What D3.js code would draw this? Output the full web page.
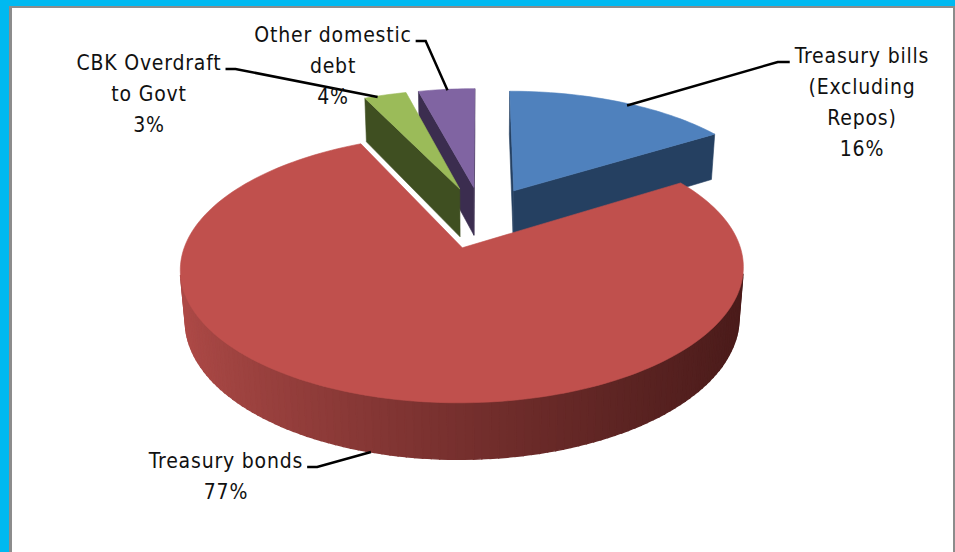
<!DOCTYPE html>
<html lang="en">
<head>
  <meta charset="UTF-8" />
  <title>Domestic debt composition</title>
  <script src="https://d3js.org/d3.v7.min.js"></script>
  <style>
    body { margin: 0; padding: 0; overflow: hidden; background: #00b9f1; }
    svg { display: block; }
    .lbl { font-family: "Liberation Sans Narrow", "Arial Narrow", "DejaVu Sans Condensed", "Liberation Sans", sans-serif; font-size: 21px; letter-spacing: 0.8px; fill: #111; }
  </style>
</head>
<body>
  <svg id="chart" width="955" height="552"></svg>
  <script>
    // data
    const categories = ["Treasury bills (Excluding Repos)", "Treasury bonds", "CBK Overdraft to Govt", "Other domestic debt"];
    const labelLines = [["Treasury bills", "(Excluding", "Repos)"], ["Treasury bonds"], ["CBK Overdraft", "to Govt"], ["Other domestic", "debt"]];
    const shares = [16, 77, 3, 4];

    // styling
    const topColors  = ["#4f81bd", "#c0504d", "#9bbb59", "#8064a2"];
    const cutColors  = ["#254061", "#6b2725", "#3f4f21", "#3b2d4f"];
    const wallLight  = ["#3f6796", "#b04b48", "#7c9747", "#66508a"];
    const wallDark   = ["#1d3350", "#4a1b1a", "#323f1a", "#2e2340"];

    // label layout (text anchor centre, first baseline)
    const labelPos = [[862, 63], [226, 468], [149, 70], [333, 42]];
    const leaderSide = ["left", "right", "right", "right"];
    const leaderTarget = [
      { angle: 31, r: 0.98, level: "top" },
      { angle: 196, r: 1.0, level: "bottom" },
      { angle: 338, r: 0.99, level: "top" },
      { angle: 353, r: 0.99, level: "top" }
    ];

    const W = 955, H = 552;
    const svg = d3.select("#chart");

    // frame
    svg.append("rect").attr("width", W).attr("height", H).attr("fill", "#00b9f1");
    svg.append("rect").attr("x", 9).attr("y", 6).attr("width", W - 9).attr("height", H - 6).attr("fill", "#8c8c8c");
    svg.append("rect").attr("x", 12).attr("y", 8).attr("width", W - 14).attr("height", H - 8).attr("fill", "#fff");

    // 3d pie geometry
    const R = 268, depth = 56, explode = 68;
    const phi = 27 * Math.PI / 180, D = 1600;
    const cx = 482, cy = 217;
    const sinP = Math.sin(phi), cosP = Math.cos(phi);
    const cam = [0, D * sinP, D * cosP];

    function proj(p) {
      const yc = p[1] * cosP - p[2] * sinP;
      const zc = p[1] * sinP + p[2] * cosP;
      const s = D / (D - zc);
      return [cx + p[0] * s, cy - yc * s];
    }
    function zdepth(p) { return p[1] * sinP + p[2] * cosP; }
    function visible(n, p) {
      return n[0] * (cam[0] - p[0]) + n[1] * (cam[1] - p[1]) + n[2] * (cam[2] - p[2]) > 0;
    }

    const pie = d3.pie().sort(null).value(d => d).startAngle(0).endAngle(2 * Math.PI);
    const arcs = pie(shares);

    const slices = arcs.map((a, i) => {
      const mid = (a.startAngle + a.endAngle) / 2;
      const ox = explode * Math.sin(mid), oz = -explode * Math.cos(mid);
      const pt = (th, r, y) => [ox + r * Math.sin(th), y, oz - r * Math.cos(th)];
      const cen = pt(mid, R / 2, 0);
      return { i, a, mid, ox, oz, pt, z: zdepth(cen) };
    });

    const line = d3.line();
    const g = svg.append("g");

    slices.sort((p, q) => p.z - q.z).forEach(sl => {
      const { i, a, pt } = sl;
      const faces = [];
      const nSteps = Math.max(4, Math.ceil((a.endAngle - a.startAngle) / (Math.PI / 120)));
      const angs = d3.range(nSteps + 1).map(k => a.startAngle + (a.endAngle - a.startAngle) * k / nSteps);
      const shade = d3.interpolateRgb(wallDark[i], wallLight[i]);

      // outer wall
      for (let k = 0; k < nSteps; k++) {
        const t0 = angs[k], t1 = angs[k + 1], tm = (t0 + t1) / 2;
        const n = [Math.sin(tm), 0, -Math.cos(tm)];
        const p = pt(tm, R, -depth / 2);
        if (!visible(n, p)) continue;
        const t = Math.pow((1 - Math.sin(tm)) / 2, 1.2);
        faces.push({
          pts: [pt(t0, R, 0), pt(t1, R, 0), pt(t1, R, -depth), pt(t0, R, -depth)],
          color: shade(t), z: zdepth(p), sw: 1.4
        });
      }
      // cut faces
      const s0 = a.startAngle, s1 = a.endAngle;
      const nStart = [-Math.cos(s0), 0, -Math.sin(s0)];
      const nEnd = [Math.cos(s1), 0, Math.sin(s1)];
      [[s0, nStart], [s1, nEnd]].forEach(([th, n]) => {
        const p = pt(th, R / 2, -depth / 2);
        if (!visible(n, p)) return;
        faces.push({
          pts: [pt(0, 0, 0), pt(th, R, 0), pt(th, R, -depth), pt(0, 0, -depth)],
          color: cutColors[i], z: zdepth(p), sw: 0.6
        });
      });
      faces.sort((p, q) => p.z - q.z).forEach(f => {
        g.append("path")
          .attr("d", line(f.pts.map(proj)) + "Z")
          .attr("fill", f.color)
          .attr("stroke", f.color)
          .attr("stroke-width", f.sw);
      });
      // top face
      const topPts = [pt(0, 0, 0)].concat(angs.map(th => pt(th, R, 0)));
      g.append("path")
        .attr("d", line(topPts.map(proj)) + "Z")
        .attr("fill", topColors[i])
        .attr("stroke", topColors[i])
        .attr("stroke-width", 0.6);
    });

    // labels and leader lines
    const byIndex = d3.sort(slices, s => s.i);
    labelLines.forEach((lines, i) => {
      const [lx, ly] = labelPos[i];
      const allLines = lines.concat([shares[i] + "%"]);
      const txt = svg.append("text").attr("class", "lbl").attr("text-anchor", "middle");
      allLines.forEach((s, k) => {
        txt.append("tspan").attr("x", lx).attr("y", ly + k * 31).text(s);
      });
      const first = txt.select("tspan").node();
      const w = first.getComputedTextLength();
      const edgeX = leaderSide[i] === "left" ? lx - w / 2 - 5 : lx + w / 2 + 4;
      const stubX = leaderSide[i] === "left" ? edgeX - 12 : edgeX + 10;
      const lt = leaderTarget[i];
      const sl = byIndex[i];
      const tp = proj(sl.pt(lt.angle * Math.PI / 180, lt.r * R, lt.level === "top" ? 0 : -depth));
      svg.append("path")
        .attr("d", line([[edgeX, ly - 1], [stubX, ly - 1], tp]))
        .attr("fill", "none")
        .attr("stroke", "#000")
        .attr("stroke-width", 2.5);
    });
  </script>
</body>
</html>
